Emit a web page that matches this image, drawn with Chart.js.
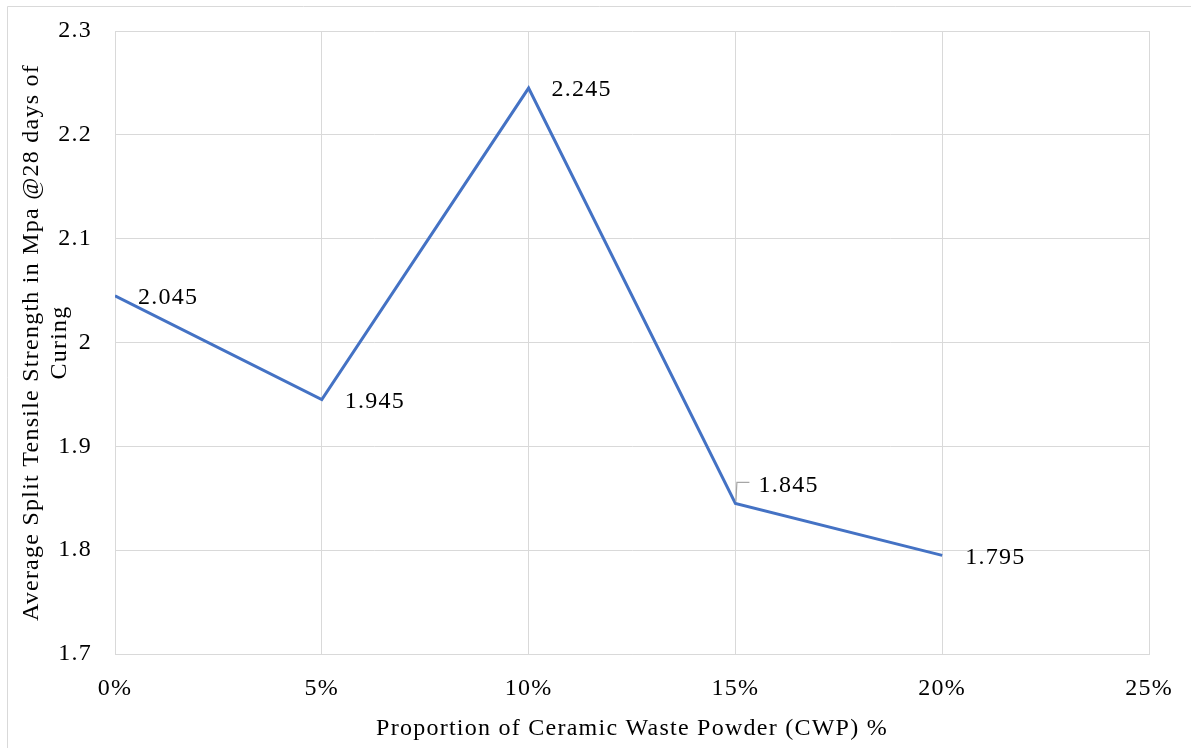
<!DOCTYPE html>
<html>
<head>
<meta charset="utf-8">
<script src="https://cdn.jsdelivr.net/npm/chart.js@4.4.1/dist/chart.umd.min.js"></script>
<style>
  html, body { margin: 0; padding: 0; background: #ffffff; }
  #wrap { width: 1191px; height: 748px; position: relative; }
</style>
</head>
<body>
<div id="wrap"><canvas id="strengthChart"></canvas></div>
<script>
// CWP replacement level (%) and split tensile strength at 28 days (MPa)
const cwpPercent = [0, 5, 10, 15, 20];
const splitStrength = [2.045, 1.945, 2.245, 1.845, 1.795];
const xTickValues = [0, 5, 10, 15, 20, 25];
const yTickValues = [1.7, 1.8, 1.9, 2.0, 2.1, 2.2, 2.3];

const serif = "'Liberation Serif', 'Times New Roman', serif";
const lineBlue = '#4472C4';
const gridGrey = '#d9d9d9';
const textSpacing = '1.25px'; // Times in the original runs a bit wider

// the canvas state is reset on resize, so set the spacing again each time
const spacingPlugin = {
    id: 'spacing',
    beforeUpdate(chart) { chart.ctx.letterSpacing = textSpacing; },
    beforeDraw(chart) { chart.ctx.letterSpacing = textSpacing; }
};

// light frame round the chart, like the Excel chart border
const framePlugin = {
    id: 'frame',
    beforeDraw(chart) {
        const ctx = chart.ctx;
        ctx.save();
        ctx.fillStyle = '#ffffff';
        ctx.fillRect(0, 0, chart.width, chart.height);
        ctx.strokeStyle = gridGrey;
        ctx.lineWidth = 1;
        ctx.beginPath();
        ctx.moveTo(7.5, chart.height);
        ctx.lineTo(7.5, 6.5);
        ctx.lineTo(chart.width, 6.5);
        ctx.stroke();
        ctx.restore();
    }
};

// value labels to the right of each point
const valueLabels = {
    id: 'valueLabels',
    afterDatasetsDraw(chart, args, opts) {
        const ctx = chart.ctx;
        const meta = chart.getDatasetMeta(0);
        const values = chart.data.datasets[0].data;
        ctx.save();
        ctx.font = '24px ' + serif;
        ctx.fillStyle = '#000000';
        ctx.textAlign = 'left';
        ctx.textBaseline = 'middle';
        meta.data.forEach(function (pt, i) {
            const lift = (opts.lift && opts.lift[i]) || 0;
            const tx = pt.x + 23;
            const ty = pt.y + 2 - lift;
            if (lift) {
                // leader line for a moved label
                ctx.strokeStyle = '#a6a6a6';
                ctx.lineWidth = 1.2;
                ctx.beginPath();
                ctx.moveTo(pt.x + 0.5, pt.y - 2);
                ctx.lineTo(pt.x + 1.5, ty - 3);
                ctx.lineTo(pt.x + 14, ty - 3);
                ctx.stroke();
            }
            ctx.fillText(String(values[i].y), tx, ty);
        });
        ctx.restore();
    }
};

const points = cwpPercent.map(function (x, i) {
    return { x: x, y: splitStrength[i] };
});

new Chart(document.getElementById('strengthChart'), {
    type: 'line',
    data: {
        datasets: [{
            label: 'Split tensile strength',
            data: points,
            borderColor: lineBlue,
            borderWidth: 3,
            pointRadius: 0,
            tension: 0,
            fill: false
        }]
    },
    options: {
        responsive: true,
        maintainAspectRatio: false,
        animation: false,
        layout: { padding: { left: 0, top: 31, right: 42, bottom: 0 } },
        plugins: {
            legend: { display: false },
            tooltip: { enabled: false },
            valueLabels: { lift: [0, 0, 0, 20, 0] }
        },
        scales: {
            x: {
                type: 'linear',
                min: 0,
                max: 25,
                afterBuildTicks: function (scale) {
                    scale.ticks = xTickValues.map(function (v) { return { value: v }; });
                },
                afterFit: function (scale) {
                    scale.height = 94;
                    scale.paddingLeft = 0;
                    scale.paddingRight = 0;
                },
                grid: { color: gridGrey, lineWidth: 1, drawTicks: false },
                border: { color: gridGrey },
                ticks: {
                    color: '#000000',
                    font: { family: serif, size: 24 },
                    padding: 20,
                    maxRotation: 0,
                    callback: function (v) { return v + '%'; }
                },
                title: {
                    display: true,
                    text: 'Proportion of Ceramic Waste Powder (CWP) %',
                    color: '#000000',
                    font: { family: serif, size: 24, lineHeight: 1.15 },
                    padding: { top: 0, bottom: 5 }
                }
            },
            y: {
                type: 'linear',
                min: 1.7,
                max: 2.3,
                afterBuildTicks: function (scale) {
                    scale.ticks = yTickValues.map(function (v) { return { value: v }; });
                },
                afterFit: function (scale) {
                    scale.width = 115;
                    scale.paddingTop = 0;
                    scale.paddingBottom = 0;
                },
                grid: { color: gridGrey, lineWidth: 1, drawTicks: false },
                border: { color: gridGrey },
                ticks: {
                    color: '#000000',
                    font: { family: serif, size: 24 },
                    padding: 23,
                    callback: function (v) { return String(+v.toFixed(1)); }
                },
                title: {
                    display: true,
                    text: ['Average Split Tensile Strength in Mpa @28 days of', 'Curing'],
                    color: '#000000',
                    font: { family: serif, size: 24, lineHeight: 1.15 },
                    padding: { top: 18, bottom: 0 }
                }
            }
        }
    },
    plugins: [spacingPlugin, framePlugin, valueLabels]
});
</script>
</body>
</html>
